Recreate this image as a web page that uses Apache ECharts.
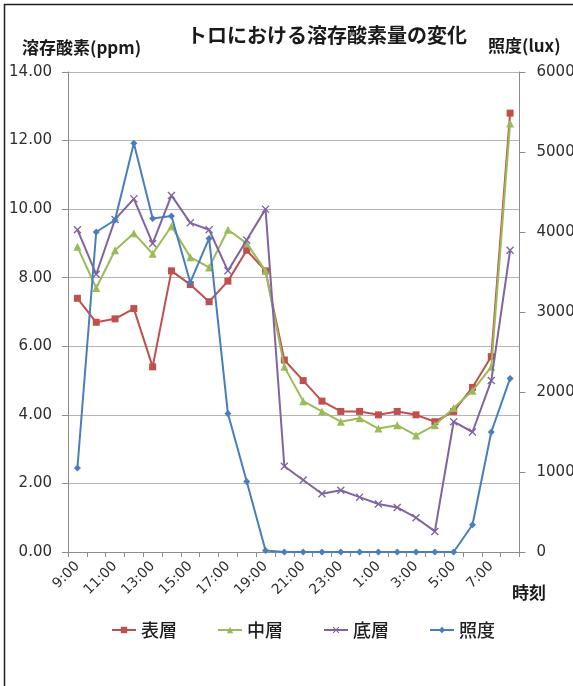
<!DOCTYPE html>
<html>
<head>
<meta charset="utf-8">
<script src="https://cdn.jsdelivr.net/npm/echarts@6/dist/echarts.min.js"></script>
<style>
html, body { margin: 0; padding: 0; background: #fff; }
#chart { width: 573px; height: 686px; }
</style>
</head>
<body>
<div id="chart"></div>
<script>
// Hourly readings, 9:00 through 8:00 the next morning
const hours = ['9:00','10:00','11:00','12:00','13:00','14:00','15:00','16:00','17:00','18:00','19:00','20:00',
               '21:00','22:00','23:00','0:00','1:00','2:00','3:00','4:00','5:00','6:00','7:00','8:00'];

// Dissolved oxygen (ppm) by depth
const surfaceDO = [7.4, 6.7, 6.8, 7.1, 5.4, 8.2, 7.8, 7.3, 7.9, 8.8, 8.2, 5.6,
                   5.0, 4.4, 4.1, 4.1, 4.0, 4.1, 4.0, 3.8, 4.1, 4.8, 5.7, 12.8];
const middleDO  = [8.9, 7.7, 8.8, 9.3, 8.7, 9.5, 8.6, 8.3, 9.4, 9.0, 8.2, 5.4,
                   4.4, 4.1, 3.8, 3.9, 3.6, 3.7, 3.4, 3.7, 4.2, 4.7, 5.4, 12.5];
const bottomDO  = [9.4, 8.1, 9.7, 10.3, 9.0, 10.4, 9.6, 9.4, 8.2, 9.1, 10.0, 2.5,
                   2.1, 1.7, 1.8, 1.6, 1.4, 1.3, 1.0, 0.6, 3.8, 3.5, 5.0, 8.8];

// Illuminance (lux)
const illuminance = [1050, 4000, 4150, 5110, 4170, 4200, 3370, 3920, 1730, 880, 20, 0,
                     0, 0, 0, 0, 0, 0, 0, 0, 0, 340, 1500, 2170];

// Axis ranges
const doMin = 0, doMax = 14, doStep = 2;
const luxMin = 0, luxMax = 6000, luxStep = 1000;

const seriesNames = ['表層', '中層', '底層', '照度'];
const colors = ['#c0504d', '#9bbb59', '#8064a2', '#4a7ebb'];

const cjk = "'Noto Sans CJK JP', sans-serif";
const num = "'DejaVu Sans', 'Noto Sans CJK JP', sans-serif";
const crossMark = 'path://M0,1.2L1.2,0L5,3.8L8.8,0L10,1.2L6.2,5L10,8.8L8.8,10L5,6.2L1.2,10L0,8.8L3.8,5Z';

const chart = echarts.init(document.getElementById('chart'), null, { renderer: 'canvas' });

function lineSeries(idx, data, symbol, size, axis) {
  return {
    name: seriesNames[idx],
    type: 'line',
    data: data,
    yAxisIndex: axis,
    symbol: symbol,
    symbolSize: size,
    showAllSymbol: true,
    lineStyle: { color: colors[idx], width: 2 },
    itemStyle: { color: colors[idx] },
    emphasis: { disabled: true },
    animation: false,
    z: 2 + idx
  };
}

chart.setOption({
  backgroundColor: '#fff',
  animation: false,
  color: colors,
  title: {
    text: 'トロにおける溶存酸素量の変化',
    left: 322,
    top: 20,
    textAlign: 'center',
    textStyle: { fontFamily: cjk, fontSize: 20, fontWeight: 'bold', color: '#1a1a1a' }
  },
  grid: {
    left: 68, right: 53.5, top: 72, bottom: 134,
    containLabel: false,
    outerBoundsMode: 'none'
  },
  legend: {
    data: seriesNames,
    left: 106,
    top: 616,
    itemWidth: 24,
    itemHeight: 8,
    itemGap: 40,
    textStyle: { fontFamily: cjk, fontSize: 18, fontWeight: 500, color: '#1e1e1e' }
  },
  xAxis: {
    type: 'category',
    data: hours,
    boundaryGap: true,
    axisLine: { lineStyle: { color: '#8c8c8c', width: 1 } },
    axisTick: { show: true, interval: 0, length: 5, lineStyle: { color: '#8c8c8c' } },
    axisLabel: {
      interval: 1,
      rotate: 45,
      margin: 12,
      fontFamily: num,
      fontSize: 14,
      color: '#2e2e2e'
    },
    splitLine: { show: false }
  },
  yAxis: [
    {
      type: 'value',
      min: doMin, max: doMax, interval: doStep,
      position: 'left',
      axisLine: { show: true, lineStyle: { color: '#8c8c8c' } },
      axisTick: { show: true, length: 6, lineStyle: { color: '#8c8c8c' } },
      axisLabel: {
        margin: 16,
        fontFamily: num, fontSize: 15, color: '#2e2e2e',
        formatter: v => v.toFixed(2)
      },
      splitLine: { show: true, lineStyle: { color: '#b4b4b4', width: 1 } }
    },
    {
      type: 'value',
      min: luxMin, max: luxMax, interval: luxStep,
      position: 'right',
      axisLine: { show: true, lineStyle: { color: '#8c8c8c' } },
      axisTick: { show: true, length: 6, lineStyle: { color: '#8c8c8c' } },
      axisLabel: {
        margin: 17, fontFamily: num, fontSize: 15, color: '#2e2e2e',
        formatter: v => String(v)
      },
      splitLine: { show: false }
    }
  ],
  graphic: [
    {
      type: 'rect', silent: true, z: 100,
      shape: { x: 4.5, y: 4.5, width: 700, height: 800 },
      style: { fill: 'none', stroke: '#1e1e1e', lineWidth: 1.5 }
    },
    {
      type: 'text', left: 22, top: 39, silent: true,
      style: { text: '溶存酸素(ppm)', font: "bold 17px 'Noto Sans CJK JP'", fill: '#1a1a1a' }
    },
    {
      type: 'text', left: 488, top: 37, silent: true,
      style: { text: '照度(lux)', font: "bold 17px 'Noto Sans CJK JP'", fill: '#1a1a1a' }
    },
    {
      type: 'text', left: 512, top: 584, silent: true,
      style: { text: '時刻', font: "bold 17px 'Noto Sans CJK JP'", fill: '#1a1a1a' }
    }
  ],
  series: [
    lineSeries(0, surfaceDO, 'rect', 7, 0),
    lineSeries(1, middleDO, 'triangle', 8, 0),
    lineSeries(2, bottomDO, crossMark, 8, 0),
    lineSeries(3, illuminance, 'diamond', 7, 1)
  ]
});
</script>
</body>
</html>
